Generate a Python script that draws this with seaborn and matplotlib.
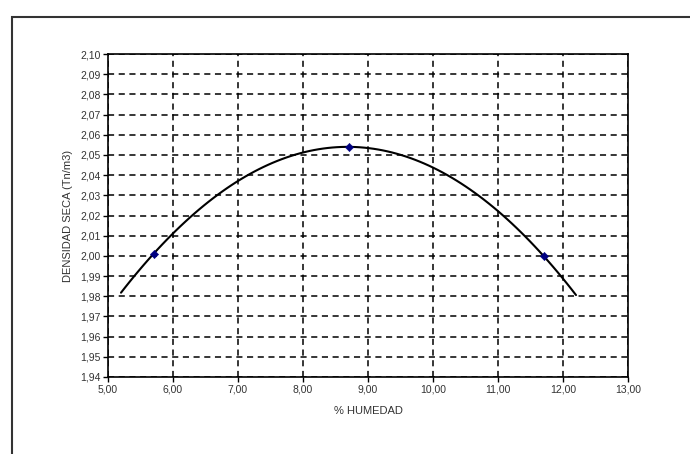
import matplotlib
matplotlib.use("Agg")
import matplotlib.pyplot as plt
import pandas as pd
import seaborn as sns
from matplotlib.patches import Rectangle
from matplotlib.ticker import FuncFormatter, MultipleLocator

# data
humedad = [5.7, 8.7, 11.7]
densidad = [2.001, 2.054, 2.000]
curve_range = (5.2, 12.2)   # extent of the 2nd order trend line

data = pd.DataFrame({"humedad": humedad, "densidad": densidad})

sns.set_style("ticks")
plt.rcParams["font.family"] = ["Liberation Sans", "DejaVu Sans"]

fig = plt.figure(figsize=(6.9, 4.54), dpi=100)
ax = fig.add_axes([108 / 690, 1 - 377 / 454, 520 / 690, 323 / 454])

# trend line (polynomial order 2) drawn over curve_range
ax.set_xlim(*curve_range)
sns.regplot(data=data, x="humedad", y="densidad", order=2, ci=None,
            scatter=False, truncate=False, ax=ax,
            line_kws={"color": "black", "lw": 1.5, "zorder": 3})
sns.scatterplot(data=data, x="humedad", y="densidad", marker="D", s=18,
                color="#000080", edgecolor="#000080", ax=ax, zorder=4)

ax.set_xlim(5, 13)
ax.set_ylim(1.94, 2.10)
ax.xaxis.set_major_locator(MultipleLocator(1))
ax.yaxis.set_major_locator(MultipleLocator(0.01))
fmt = FuncFormatter(lambda v, p: f"{v:.2f}".replace(".", ","))
ax.xaxis.set_major_formatter(fmt)
ax.yaxis.set_major_formatter(fmt)
ax.grid(True, color="black", linestyle=(0, (4, 3)), linewidth=1.1)
ax.set_axisbelow(True)
for s in ax.spines.values():
    s.set_color("black")
    s.set_linewidth(1.2)
ax.tick_params(axis="both", labelsize=7.5, length=3.5, width=1.0, color="black",
               direction="out", pad=2, labelcolor="#333333")

ax.set_xlabel("% HUMEDAD", fontsize=8, labelpad=8, color="#333333")
ax.set_ylabel("DENSIDAD SECA (Tn/m3)", fontsize=8, labelpad=5, color="#333333")

# outer frame of the chart area
fig.patches.append(Rectangle((12 / 690, -0.1), 1.1, 1.1 - 17 / 454,
                             transform=fig.transFigure, fill=False,
                             edgecolor="#333333", linewidth=1.5))

fig.savefig("out.png", dpi=100)
